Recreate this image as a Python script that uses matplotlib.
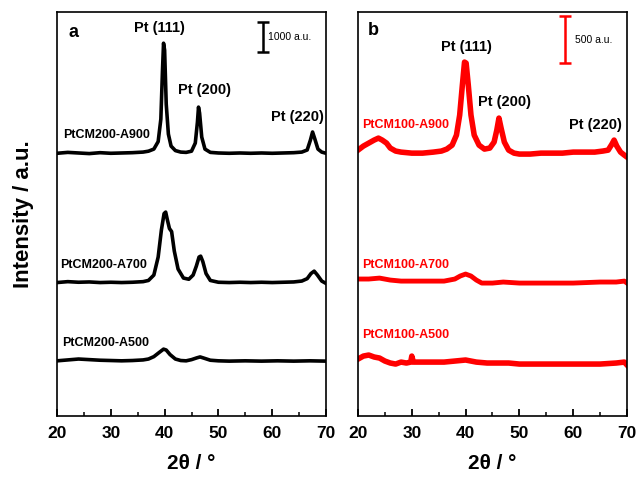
import numpy as np
import matplotlib.pyplot as plt
from matplotlib.ticker import MultipleLocator

plt.rcParams['font.family'] = ['Liberation Sans', 'DejaVu Sans']

# ---- panel a : PtCM200 series (black), intensity in a.u. ----
x_a900 = [20, 22, 24, 26, 28, 30, 32, 34, 36, 37, 38, 38.8, 39.3, 39.6, 39.8, 40.0, 40.3,
          40.7, 41.2, 42, 43, 44, 45, 45.7, 46.1, 46.3, 46.5, 46.9, 47.5, 48.5, 50, 52, 54,
          56, 58, 60, 62, 64, 65.5, 66.5, 67.1, 67.5, 67.9, 68.5, 69.2, 70]
y_a900 = [8760, 8790, 8770, 8750, 8780, 8760, 8770, 8780, 8800, 8830, 8900, 9150, 9900,
          11500, 12430, 12200, 10400, 9400, 9000, 8850, 8800, 8790, 8830, 9100, 9800, 10300,
          10100, 9300, 8900, 8790, 8770, 8760, 8770, 8760, 8770, 8760, 8770, 8780, 8800,
          8870, 9200, 9470, 9250, 8900, 8800, 8760]

x_a700 = [20, 22, 24, 26, 28, 30, 32, 34, 36, 37, 38, 38.8, 39.4, 39.9, 40.2, 40.5, 40.9,
          41.3, 41.8, 42.5, 43.5, 44.5, 45.3, 45.9, 46.4, 46.7, 47.1, 47.7, 48.5, 50, 52, 54,
          56, 58, 60, 62, 64, 65.5, 66.5, 67.2, 67.8, 68.4, 69.2, 70]
y_a700 = [4450, 4480, 4460, 4470, 4450, 4460, 4450, 4460, 4480, 4520, 4700, 5300, 6200,
          6750, 6800, 6550, 6250, 6150, 5500, 4900, 4600, 4560, 4700, 5000, 5300, 5330, 5150,
          4750, 4520, 4460, 4450, 4460, 4450, 4460, 4450, 4460, 4470, 4500, 4580, 4750, 4830,
          4700, 4500, 4420]

x_a500 = [20, 22, 24, 26, 28, 30, 32, 34, 36, 37, 38, 39, 39.8, 40.3, 41, 42, 43, 44, 45,
          46, 46.6, 47.3, 48.5, 50, 52, 55, 58, 61, 64, 67, 70]
y_a500 = [1840, 1870, 1900, 1880, 1860, 1850, 1840, 1850, 1870, 1900, 1980, 2120, 2230,
          2200, 2050, 1900, 1850, 1840, 1880, 1940, 1970, 1930, 1860, 1840, 1830, 1840,
          1830, 1840, 1830, 1840, 1830]

# ---- panel b : PtCM100 series (red) ----
x_b900 = [20, 21, 22, 23, 23.8, 24.5, 25.3, 26, 27, 28, 30, 32, 34, 35.5, 36.5, 37.5, 38.3,
          38.9, 39.4, 39.8, 40.1, 40.5, 41, 41.6, 42.5, 43.5, 44.5, 45.3, 45.8, 46.2, 46.6,
          47.2, 48, 49, 50, 52, 54, 56, 58, 60, 62, 64, 65.5, 66.5, 67.2, 67.6, 68.1, 68.8,
          69.5, 70]
y_b900 = [2830, 2873, 2905, 2937, 2958, 2937, 2905, 2852, 2820, 2809, 2798, 2798, 2809,
          2820, 2841, 2883, 2990, 3203, 3522, 3767, 3756, 3522, 3203, 2990, 2883, 2841, 2852,
          2916, 3043, 3171, 3064, 2916, 2830, 2798, 2788, 2788, 2798, 2798, 2798, 2809, 2809,
          2809, 2820, 2830, 2894, 2937, 2873, 2809, 2777, 2756]

x_b700 = [20, 22, 24, 26, 28, 30, 32, 34, 36, 38, 39, 40, 41, 42, 43, 45, 47, 50, 55, 60,
          65, 68, 69.5, 70]
y_b700 = [1458, 1458, 1468, 1447, 1436, 1436, 1436, 1436, 1436, 1458, 1490, 1511, 1490,
          1447, 1415, 1415, 1426, 1415, 1415, 1415, 1426, 1426, 1436, 1415]

x_b500 = [20, 21, 22, 23, 24, 25, 26, 27, 28, 29, 29.8, 30, 30.3, 32, 34, 36, 38, 40, 42,
          44, 46, 48, 50, 55, 60, 65, 68, 69.5, 70]
y_b500 = [606, 638, 649, 628, 617, 585, 564, 553, 574, 564, 574, 638, 574, 574, 574, 574,
          585, 596, 574, 564, 564, 564, 553, 553, 553, 553, 564, 574, 543]

fig = plt.figure(figsize=(6.37, 4.79), dpi=100)
ax1 = fig.add_axes([0.0895, 0.1315, 0.4223, 0.8434])
ax2 = fig.add_axes([0.562, 0.1315, 0.4223, 0.8434])

ax1.plot(x_a900, y_a900, color='black', lw=2.6)
ax1.plot(x_a700, y_a700, color='black', lw=2.6)
ax1.plot(x_a500, y_a500, color='black', lw=2.6)
ax1.set_ylim(0, 13470)

ax2.plot(x_b900, y_b900, color='red', lw=4)
ax2.plot(x_b700, y_b700, color='red', lw=3.5)
ax2.plot(x_b500, y_b500, color='red', lw=4)
ax2.set_ylim(0, 4300)

for ax in (ax1, ax2):
    ax.set_xlim(20, 70)
    ax.xaxis.set_major_locator(MultipleLocator(10))
    ax.xaxis.set_minor_locator(MultipleLocator(5))
    ax.tick_params(axis='x', which='major', direction='in', length=5, width=1.3,
                   pad=7, labelsize=12.5)
    ax.tick_params(axis='x', which='minor', direction='in', length=3, width=1.1)
    ax.set_yticks([])
    for lab in ax.get_xticklabels():
        lab.set_fontweight('bold')
    for sp in ax.spines.values():
        sp.set_linewidth(1.2)
    ax.set_xlabel('2θ / °', fontsize=15, fontweight='bold')
    ax.xaxis.set_label_coords(0.5, -0.095)

ax1.set_ylabel('Intensity / a.u.', fontsize=16, fontweight='bold')
ax1.yaxis.set_label_coords(-0.085, 0.5)

# scale bars
ax1.errorbar([58.3], [12633], yerr=[500], color='black', capsize=4, elinewidth=1.8,
             capthick=1.8)
ax1.text(59.2, 12633, '1000 a.u.', fontsize=7.5, va='center', ha='left')
ax2.errorbar([58.5], [4006], yerr=[250], color='red', capsize=4, elinewidth=1.8,
             capthick=1.8)
ax2.text(60.3, 4000, '500 a.u.', fontsize=7.5, va='center', ha='left')

# panel letters
ax1.text(0.06, 0.95, 'a', transform=ax1.transAxes, fontsize=13, fontweight='bold',
         ha='center', va='center')
ax2.text(0.056, 0.955, 'b', transform=ax2.transAxes, fontsize=13, fontweight='bold',
         ha='center', va='center')

pk = dict(fontsize=10.5, fontweight='bold', ha='center', va='center')
ax1.text(39.1, 12930, 'Pt (111)', **pk)
ax1.text(47.5, 10867, 'Pt (200)', **pk)
ax1.text(64.6, 9967, 'Pt (220)', **pk)
ax2.text(40.1, 3926, 'Pt (111)', **pk)
ax2.text(47.3, 3341, 'Pt (200)', **pk)
ax2.text(64.1, 3096, 'Pt (220)', **pk)

sm = dict(fontsize=9, fontweight='bold', ha='left', va='center')
ax1.text(21.1, 9367, 'PtCM200-A900', **sm)
ax1.text(20.6, 5033, 'PtCM200-A700', **sm)
ax1.text(20.9, 2433, 'PtCM200-A500', **sm)
ax2.text(20.7, 3096, 'PtCM100-A900', color='red', **sm)
ax2.text(20.7, 1607, 'PtCM100-A700', color='red', **sm)
ax2.text(20.7, 862, 'PtCM100-A500', color='red', **sm)

plt.savefig('out.png', dpi=100)
